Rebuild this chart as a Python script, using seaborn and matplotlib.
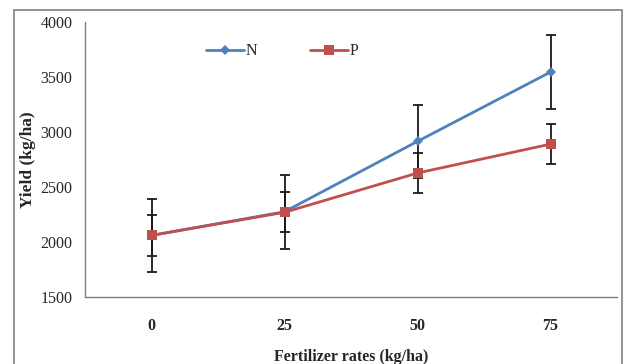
import matplotlib
matplotlib.use('Agg')
import matplotlib.pyplot as plt
import seaborn as sns
import pandas as pd
from matplotlib.patches import Rectangle

# Data
rates = ['0', '25', '50', '75']
yield_n = [2060, 2275, 2915, 3545]
yield_p = [2060, 2270, 2627, 2890]
err_n = [335, 335, 335, 335]
err_p = [183, 183, 185, 182]

sns.set_style('white')
plt.rcParams['font.family'] = ['Liberation Serif', 'DejaVu Serif']

df = pd.DataFrame({
    'pos': list(range(len(rates))) * 2,
    'yield': yield_n + yield_p,
    'err': err_n + err_p,
    'nutrient': ['N'] * len(rates) + ['P'] * len(rates),
})
palette = {'N': '#4F81BD', 'P': '#C0504D'}

fig = plt.figure(figsize=(6.27, 3.64), dpi=100)
ax = fig.add_axes([85/627, 1-297/364, (617-85)/627, (297-22)/364])

# error bars first (black, behind markers)
for name, sub in df.groupby('nutrient'):
    ax.errorbar(sub['pos'], sub['yield'], yerr=sub['err'], fmt='none',
                ecolor='#1a1a1a', elinewidth=1.3, capsize=3.5, capthick=1.3, zorder=2)

g = sns.lineplot(data=df, x='pos', y='yield', hue='nutrient', style='nutrient',
                 markers={'N': 'D', 'P': 's'}, dashes=False, palette=palette,
                 linewidth=2, markersize=7, markeredgewidth=0, ax=ax, zorder=3)
for line in ax.lines:
    if line.get_marker() == 'D':
        line.set_markersize(5.5)

ax.set_xlim(-0.5, 3.5)
ax.set_ylim(1500, 4000)
ax.set_yticks([1500, 2000, 2500, 3000, 3500, 4000])
ax.set_xticks(range(len(rates)))
ax.set_xticklabels(rates, fontweight='bold', fontsize=11.5)
ax.set_xticks([-0.5, 0.5, 1.5, 2.5, 3.5], minor=True)
ax.tick_params(axis='x', which='major', length=0, pad=15)
ax.tick_params(axis='x', which='minor', length=4, width=1, color='#808080', direction='out')
ax.tick_params(axis='y', length=4, width=1, color='#808080', direction='out', labelsize=11.5, pad=5)
for s in ['top', 'right']:
    ax.spines[s].set_visible(False)
for s in ['left', 'bottom']:
    ax.spines[s].set_color('#808080')
    ax.spines[s].set_linewidth(1)

ax.set_xlabel('Fertilizer rates (kg/ha)', fontweight='bold', fontsize=11.5, labelpad=11)
ax.set_ylabel('Yield (kg/ha)', fontweight='bold', fontsize=12.5, labelpad=3)

leg = ax.legend(loc='upper left', bbox_to_anchor=(0.2, 0.975), ncol=2, frameon=False,
                fontsize=11.5, columnspacing=3.3, handlelength=2.4, handletextpad=0.1)

# outer frame around the chart
fig.patches.append(Rectangle((14/627, -0.05), (622-14)/627, 1.05 - 10/364,
                             transform=fig.transFigure, fill=False,
                             edgecolor='#808080', linewidth=1.2))

fig.savefig('out.png', dpi=100)
